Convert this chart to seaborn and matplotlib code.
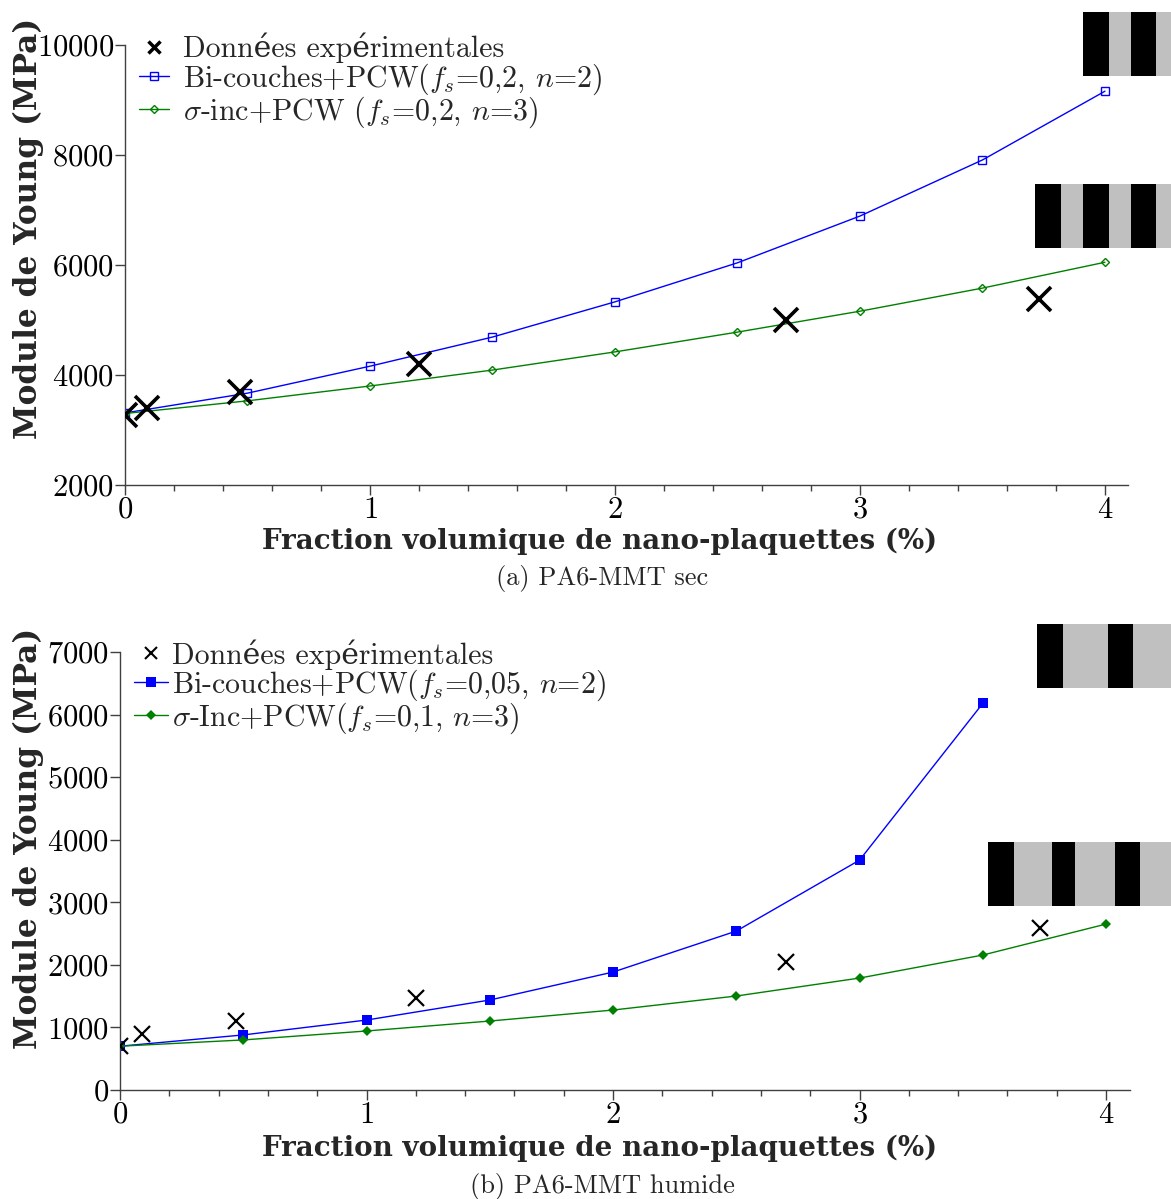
import matplotlib
matplotlib.use('Agg')
import matplotlib.pyplot as plt
from matplotlib.patches import Rectangle
import seaborn as sns
import pandas as pd

# ---- data (a) PA6-MMT sec
exp_x_a = [0.0, 0.09, 0.47, 1.2, 2.7, 3.73]
exp_y_a = [3270, 3400, 3690, 4200, 5000, 5380]
model_x_a = [0, 0.5, 1, 1.5, 2, 2.5, 3, 3.5, 4]
bicouche_a = [3310, 3670, 4160, 4690, 5330, 6040, 6890, 7910, 9160]
sigma_a = [3300, 3530, 3800, 4090, 4420, 4780, 5160, 5580, 6050]

# ---- data (b) PA6-MMT humide
exp_x_b = [0.0, 0.09, 0.47, 1.2, 2.7, 3.73]
exp_y_b = [703, 895, 1100, 1470, 2045, 2590]
bicouche_x_b = [0, 0.5, 1, 1.5, 2, 2.5, 3, 3.5]
bicouche_b = [700, 880, 1118, 1438, 1885, 2540, 3674, 6180]
sigma_x_b = [0, 0.5, 1, 1.5, 2, 2.5, 3, 3.5, 4]
sigma_b = [700, 800, 943, 1102, 1278, 1502, 1789, 2157, 2652]

labels_a = ['Données expérimentales',
            r'Bi-couches+PCW($f_s$=0,2, $n$=2)',
            r'$\sigma$-inc+PCW ($f_s$=0,2, $n$=3)']
labels_b = ['Données expérimentales',
            r'Bi-couches+PCW($f_s$=0,05, $n$=2)',
            r'$\sigma$-Inc+PCW($f_s$=0,1, $n$=3)']
xlabel = 'Fraction volumique de nano-plaquettes (%)'
ylabel = 'Module de Young (MPa)'

sns.set_style('ticks')
plt.rcParams['font.family'] = ['cmr10', 'DejaVu Serif']
plt.rcParams['mathtext.fontset'] = 'cm'
plt.rcParams['axes.unicode_minus'] = False
plt.rcParams['axes.formatter.use_mathtext'] = True

W, H = 1171, 1199
fig = plt.figure(figsize=(W / 100, H / 100), dpi=100)

ax1 = fig.add_axes([125 / W, 1 - 485 / H, (1128 - 125) / W, 440 / H])
ax2 = fig.add_axes([120 / W, 1 - 1090 / H, (1130 - 120) / W, 438 / H])

xbold = dict(family=['DejaVu Serif'], weight='bold', fontsize=20)
ybold = dict(family=['DejaVu Serif'], weight='bold', fontsize=22.5)


def draw(ax, ex, ey, bx, by, sx, sy, labels, big):
    df_e = pd.DataFrame({'x': ex, 'y': ey})
    df_b = pd.DataFrame({'x': bx, 'y': by})
    df_s = pd.DataFrame({'x': sx, 'y': sy})
    if big:
        ax.plot(df_e.x, df_e.y, ls='none', marker='x', ms=17, mew=2.6,
                color='black', label=labels[0], zorder=5)
        sns.lineplot(data=df_b, x='x', y='y', ax=ax, color='blue', lw=1,
                     marker='s', ms=6, mfc='none', mec='blue', mew=1,
                     label=labels[1])
        sns.lineplot(data=df_s, x='x', y='y', ax=ax, color='green', lw=1,
                     marker='D', ms=4.5, mfc='none', mec='green', mew=1,
                     label=labels[2])
    else:
        ax.plot(df_e.x, df_e.y, ls='none', marker='x', ms=11, mew=1.6,
                color='black', label=labels[0], zorder=5)
        sns.lineplot(data=df_b, x='x', y='y', ax=ax, color='blue', lw=1,
                     marker='s', ms=7, mfc='blue', mec='blue', mew=0,
                     label=labels[1])
        sns.lineplot(data=df_s, x='x', y='y', ax=ax, color='green', lw=1,
                     marker='D', ms=5, mfc='green', mec='green', mew=0,
                     label=labels[2])
    sns.despine(ax=ax)
    for s in ['left', 'bottom']:
        ax.spines[s].set_color('#404040')
        ax.spines[s].set_linewidth(1)
    ax.set_xticks([0, 1, 2, 3, 4])
    ax.set_xticks([i * 0.2 for i in range(21)], minor=True)
    ax.tick_params(axis='both', which='major', direction='out', length=7,
                   width=1, labelsize=22, colors='#404040', labelcolor='black', pad=1)
    ax.tick_params(axis='x', which='minor', direction='out', length=4,
                   width=1, colors='#404040')
    ax.set_xlabel(xlabel, **xbold)
    ax.set_ylabel(ylabel, **ybold)


draw(ax1, exp_x_a, exp_y_a, model_x_a, bicouche_a, model_x_a, sigma_a, labels_a, True)
leg1 = ax1.legend(loc='upper left', bbox_to_anchor=(-0.004, 1.068), frameon=False,
                  fontsize=21.5, handlelength=1.0, handletextpad=0.47,
                  labelspacing=-0.08, borderaxespad=0.2)
leg1.legend_handles[0].set_markersize(8)
leg1.legend_handles[0].set_markeredgewidth(2.5)
ax1.set_xlim(0, 4.094)
ax1.set_ylim(2000, 10000)
ax1.set_yticks([2000, 4000, 6000, 8000, 10000])

draw(ax2, exp_x_b, exp_y_b, bicouche_x_b, bicouche_b, sigma_x_b, sigma_b, labels_b, False)
leg2 = ax2.legend(loc='upper left', bbox_to_anchor=(-0.004, 1.07), frameon=False,
                  fontsize=21.5, handlelength=1.13, handletextpad=0.13,
                  labelspacing=-0.08, borderaxespad=0.2)
leg2.legend_handles[0].set_markersize(9)
leg2.legend_handles[0].set_markeredgewidth(1.5)
ax2.set_xlim(0, 4.097)
ax2.set_ylim(0, 7000)
ax2.set_yticks(range(0, 7001, 1000))

ax1.yaxis.set_label_coords(-97 / 1003, (485 - 228) / 440)
ax2.yaxis.set_label_coords(-92 / 1010, (1090 - 838) / 438)
ax1.xaxis.set_label_coords((600 - 125) / 1003, -(541 - 485) / 440)
ax2.xaxis.set_label_coords((600 - 120) / 1010, -(1148 - 1090) / 438)
for a in (ax1, ax2):
    a.xaxis.label.set_va('center')
    a.yaxis.label.set_va('center')

fig.text(602 / W, 1 - 578 / H, '(a) PA6-MMT sec', ha='center', va='center', fontsize=19)
fig.text(602 / W, 1 - 1186 / H, '(b) PA6-MMT humide', ha='center', va='center', fontsize=19)

# striped layer sketches (black / grey bands), figure pixel coordinates
stripes = [
    (12, 76, [(1083, 1109, 'k'), (1109, 1131, 'g'), (1131, 1156, 'k'), (1156, 1171, 'g')]),
    (184, 248, [(1035, 1061, 'k'), (1061, 1083, 'g'), (1083, 1109, 'k'), (1109, 1131, 'g'),
                (1131, 1156, 'k'), (1156, 1171, 'g')]),
    (624, 688, [(1037, 1063, 'k'), (1063, 1108, 'g'), (1108, 1133, 'k'), (1133, 1171, 'g')]),
    (842, 906, [(988, 1014, 'k'), (1014, 1052, 'g'), (1052, 1075, 'k'), (1075, 1115, 'g'),
                (1115, 1140, 'k'), (1140, 1171, 'g')]),
]
for y0, y1, bands in stripes:
    for x0, x1, c in bands:
        fig.patches.append(Rectangle((x0 / W, 1 - y1 / H), (x1 - x0) / W, (y1 - y0) / H,
                                     transform=fig.transFigure,
                                     facecolor='black' if c == 'k' else '#c0c0c0',
                                     edgecolor='none', zorder=10))

fig.savefig('out.png', dpi=100)
